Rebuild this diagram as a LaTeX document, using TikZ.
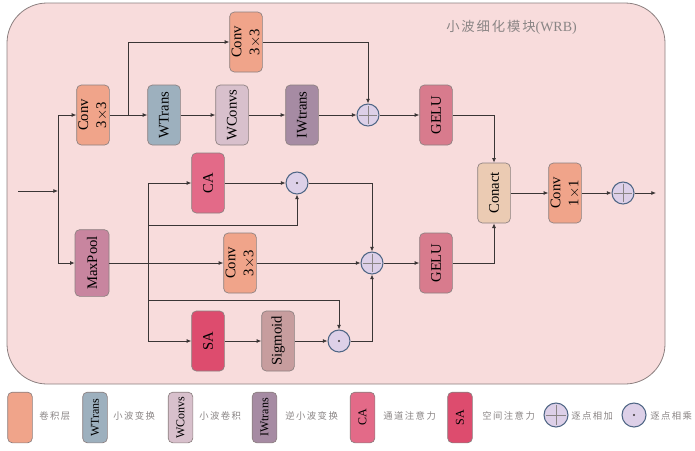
\documentclass[tikz,border=0pt]{standalone}
\usepackage{fontspec}
\setmainfont{Liberation Serif}
\newfontfamily\cjk[LetterSpace=16]{Noto Sans CJK SC}
\newfontfamily\cjktitle[LetterSpace=14]{Noto Sans CJK SC}
\usetikzlibrary{positioning, shapes, arrows.meta, calc}
\definecolor{mybg}{HTML}{F8DCDC}
\definecolor{myframe}{HTML}{8C8080}
\definecolor{myline}{HTML}{3A3535}
\definecolor{mygray}{HTML}{8A8585}
\definecolor{myconv}{HTML}{F0A48A}
\definecolor{mywtrans}{HTML}{9DB0BE}
\definecolor{mywconvs}{HTML}{D8C0CC}
\definecolor{myiwtrans}{HTML}{A68BA3}
\definecolor{mygelu}{HTML}{D87B8D}
\definecolor{myca}{HTML}{E36A88}
\definecolor{mysa}{HTML}{DD4C6E}
\definecolor{mymaxpool}{HTML}{C8859F}
\definecolor{mysigmoid}{HTML}{C79D9E}
\definecolor{myconact}{HTML}{EBCBB3}
\definecolor{myopfill}{HTML}{DDD0E8}
\definecolor{myopdraw}{HTML}{4F6685}
\tikzset{
  blk/.style={draw=myframe, line width=0.5pt, rounded corners=3.5pt, rotate=90,
    minimum width=45pt, minimum height=24.5pt, inner sep=1pt, align=center,
    font=\fontsize{11}{13.5}\selectfont},
  legblk/.style={blk, minimum width=38pt, minimum height=18.5pt,
    font=\fontsize{9}{10}\selectfont},
  plusop/.style={circle, draw=myopdraw, line width=0.8pt, fill=myopfill,
    minimum size=16.5pt, inner sep=0,
    path picture={\draw[mygray, line width=0.6pt]
      ($(path picture bounding box.north)+(0,-1.2pt)$) -- ($(path picture bounding box.south)+(0,1.2pt)$)
      ($(path picture bounding box.west)+(1.2pt,0)$) -- ($(path picture bounding box.east)+(-1.2pt,0)$);}},
  dotop/.style={circle, draw=myopdraw, line width=0.8pt, fill=myopfill,
    minimum size=16.5pt, inner sep=0,
    path picture={\fill[myline] (path picture bounding box.center) circle (0.9pt);}},
  legtext/.style={anchor=west, text=mygray, inner sep=0, font=\cjk\fontsize{7}{8}\selectfont},
  link/.style={draw=myline, line width=0.6pt}
}

\begin{document}
\begin{tikzpicture}[x=0.75pt, y=-0.75pt, >={Latex[width=3pt,length=3.5pt]}]
\useasboundingbox (0,0) rectangle (695,450);
% frame
\draw[myframe, fill=mybg, line width=0.6pt, rounded corners=30pt] (7,3) rectangle (665,384);
\node [anchor=west, text=mygray, inner sep=0, font=\fontsize{10.5}{12}\selectfont] (title) at (446,27) {{\cjktitle\fontsize{10}{12}\selectfont 小波细化模块}(WRB)};

% upper branch
\node [blk, fill=myconv] (conva) at (93,115) {Conv\\3$\times$3};
\node [blk, fill=myconv] (convb) at (246,42) {Conv\\3$\times$3};
\node [blk, fill=mywtrans] (wtrans) at (164,115) {WTrans};
\node [blk, fill=mywconvs] (wconvs) at (232,115) {WConvs};
\node [blk, fill=myiwtrans] (iwtrans) at (302,115) {IWtrans};
\node [plusop] (plusa) at (368,115) {};
\node [blk, fill=mygelu] (gelua) at (436,115) {GELU};

% lower branch
\node [blk, fill=mymaxpool, minimum width=50pt, minimum height=25.5pt] (maxpool) at (92,263) {MaxPool};
\node [blk, fill=myca] (ca) at (208,183) {CA};
\node [dotop] (dota) at (297,183) {};
\node [blk, fill=myconv] (convd) at (240,263) {Conv\\3$\times$3};
\node [plusop] (plusb) at (372,263) {};
\node [blk, fill=mysa] (sa) at (208,341) {SA};
\node [blk, fill=mysigmoid] (sigmoid) at (278,341) {Sigmoid};
\node [dotop] (dotb) at (339,341) {};
\node [blk, fill=mygelu] (gelub) at (436,263) {GELU};

% output
\node [blk, fill=myconact] (conact) at (494,193) {Conact};
\node [blk, fill=myconv] (convc) at (565,193) {Conv\\1$\times$1};
\node [plusop] (plusc) at (623,193) {};

\coordinate (in) at (18,191);
\coordinate (split) at (58,191);
\coordinate (bra) at (128,115);
\coordinate (brb) at (148,263);
\coordinate (brc) at (148,225);
\coordinate (brd) at (148,300);
\coordinate (out) at (656,193);

\draw[link,->] (in) -- (split);
\draw[link,->] (split) |- (conva);
\draw[link,->] (split) |- (maxpool);
\draw[link,->] (conva) -- (wtrans);
\draw[link,->] (bra) |- (convb);
\draw[link,->] (convb) -| (plusa);
\draw[link,->] (wtrans) -- (wconvs);
\draw[link,->] (wconvs) -- (iwtrans);
\draw[link,->] (iwtrans) -- (plusa);
\draw[link,->] (plusa) -- (gelua);
\draw[link,->] (gelua) -| (conact);

\draw[link,->] (maxpool) -- (convd);
\draw[link,->] (brb) |- (ca);
\draw[link,->] (brb) |- (sa);
\draw[link,->] (brc) -| (dota);
\draw[link,->] (brd) -| (dotb);
\draw[link,->] (ca) -- (dota);
\draw[link,->] (sa) -- (sigmoid);
\draw[link,->] (sigmoid) -- (dotb);
\draw[link,->] (dota) -| (plusb);
\draw[link,->] (dotb) -| (plusb);
\draw[link,->] (convd) -- (plusb);
\draw[link,->] (plusb) -- (gelub);
\draw[link,->] (gelub) -| (conact);

\draw[link,->] (conact) -- (convc);
\draw[link,->] (convc) -- (plusc);
\draw[link,->] (plusc) -- (out);

% legend
\node [legblk, fill=myconv] (lconv) at (20,417.5) {};
\node [legtext] (tconv) at (39,416) {卷积层};
\node [legblk, fill=mywtrans] (lwtrans) at (95,417.5) {WTrans};
\node [legtext] (twtrans) at (113,416) {小波变换};
\node [legblk, fill=mywconvs] (lwconvs) at (180.5,417.5) {WConvs};
\node [legtext] (twconvs) at (199,416) {小波卷积};
\node [legblk, fill=myiwtrans] (liwtrans) at (264.5,417.5) {IWtrans};
\node [legtext] (tiwtrans) at (285,416) {逆小波变换};
\node [legblk, fill=myca] (lca) at (362.5,417.5) {CA};
\node [legtext] (tca) at (383,416) {通道注意力};
\node [legblk, fill=mysa] (lsa) at (460,417.5) {SA};
\node [legtext] (tsa) at (482,416) {空间注意力};
\node [plusop, minimum size=18pt] (lplus) at (556,415) {};
\node [legtext] (tplus) at (571,416) {逐点相加};
\node [dotop, minimum size=18pt] (ldot) at (634,415) {};
\node [legtext] (tdot) at (650,416) {逐点相乘};

\end{tikzpicture}
\end{document}
